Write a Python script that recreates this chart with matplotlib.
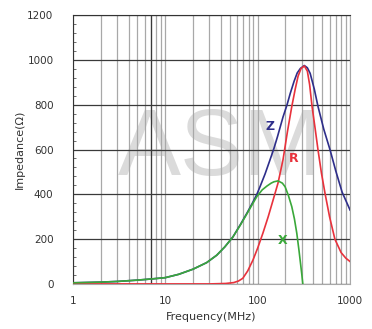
import matplotlib
matplotlib.use("Agg")
import matplotlib.pyplot as plt
from matplotlib.ticker import FixedLocator, MultipleLocator, NullFormatter

plt.rcParams.update({"font.family": "DejaVu Sans", "font.size": 7.5})

# impedance curves read in MHz / ohm
z_freq = [1, 2, 3, 5, 7, 10, 14, 20, 28, 36, 44, 54, 65, 77, 88, 98, 106, 120,
          136, 150, 164, 188, 208, 225, 248, 268, 290, 320, 345, 370, 410, 450,
          520, 608, 700, 820, 1000]
z_vals = [5, 8, 11, 17, 22, 28, 43, 66, 95, 128, 165, 210, 265, 318, 362, 400,
          434, 490, 554, 605, 658, 745, 800, 850, 905, 942, 962, 975, 965, 940,
          870, 792, 690, 598, 505, 410, 330]

r_freq = [1, 10, 30, 45, 55, 62, 69, 78, 89, 100, 114, 130, 147, 166, 188, 210,
          234, 255, 274, 295, 320, 345, 365, 388, 420, 450, 490, 535, 600, 685,
          800, 900, 1000]
r_vals = [0, 0, 0, 2, 6, 13, 25, 58, 107, 160, 227, 300, 375, 450, 554, 680,
          792, 870, 928, 962, 973, 950, 890, 792, 690, 598, 495, 406, 300, 200,
          140, 115, 100]

x_freq = [1, 2, 3, 5, 7, 10, 14, 20, 28, 36, 44, 54, 65, 77, 88, 98, 112, 126,
          140, 150, 166, 185, 198, 215, 234, 250, 265, 280, 288, 300, 308]
x_vals = [5, 8, 11, 17, 22, 28, 43, 66, 95, 128, 165, 210, 263, 315, 357, 390,
          420, 437, 450, 456, 460, 450, 434, 395, 345, 290, 227, 150, 107, 45, 0]

curve_labels = ["Z", "R", "X"]
label_pos = [(136, 701), (248, 562), (184, 196)]
colors = ["#2e2e8a", "#e8323c", "#3aa83a"]

x_ticks = [1, 10, 100, 1000]
y_ticks = [0, 200, 400, 600, 800, 1000, 1200]
minor_x = [m * d for d in (1, 10, 100) for m in range(2, 10)]

fig = plt.figure(figsize=(3.72, 3.29), dpi=100)
ax = fig.add_axes([0.196, 0.137, 0.745, 0.817])

ax.set_xscale("log")
ax.set_xlim(1, 1000)
ax.set_ylim(0, 1200)

# log grid: light vertical lines, dark horizontal ones
ax.xaxis.set_major_locator(FixedLocator(x_ticks))
ax.xaxis.set_minor_locator(FixedLocator(minor_x))
ax.xaxis.set_minor_formatter(NullFormatter())
ax.set_xticklabels([str(t) for t in x_ticks])
ax.yaxis.set_major_locator(FixedLocator(y_ticks))
ax.yaxis.set_minor_locator(MultipleLocator(40))
ax.grid(True, which="both", axis="x", color="#a8a8a8", lw=0.9)
ax.grid(True, which="major", axis="y", color="#3a3a3a", lw=0.9)
ax.axvline(7, color="#3a3a3a", lw=0.9)

ax.tick_params(axis="x", which="both", length=0, pad=9, colors="#333333")
ax.tick_params(axis="y", which="major", length=0, pad=14, colors="#333333")
ax.tick_params(axis="y", which="minor", direction="in", length=2, color="#555555")
for side in ["left", "top"]:
    ax.spines[side].set_color("#333333")
for side in ["right", "bottom"]:
    ax.spines[side].set_color("#a8a8a8")

ax.text(0.53, 0.495, "ASM", transform=ax.transAxes, fontsize=68,
        family="Liberation Sans", color="#d2d2d2", alpha=0.8,
        ha="center", va="center", zorder=1.0)

for fr, vals, c in zip([z_freq, r_freq, x_freq], [z_vals, r_vals, x_vals], colors):
    ax.plot(fr, vals, color=c, lw=1.2, zorder=3, solid_joinstyle="round")

for name, (fx, fy), c in zip(curve_labels, label_pos, colors):
    ax.text(fx, fy, name, color=c, fontsize=9, fontweight="bold",
            ha="center", va="center", zorder=4)

ax.set_xlabel("Frequency(MHz)", fontsize=8, color="#333333", labelpad=4)
ax.set_ylabel("Impedance(Ω)", fontsize=8, color="#333333", labelpad=2)

fig.savefig("out.png", dpi=100)
